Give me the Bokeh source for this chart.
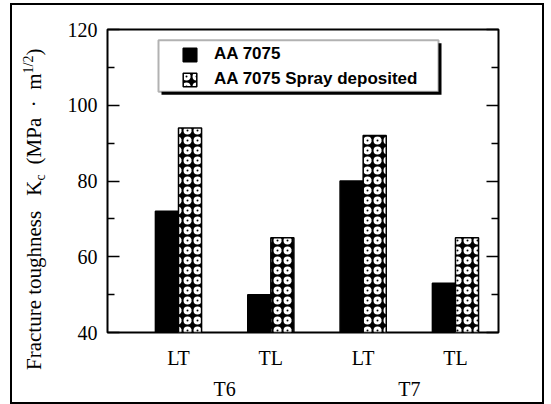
import numpy as np
from bokeh.plotting import figure
from bokeh.layouts import row
from bokeh.models import (ColumnDataSource, FixedTicker, LinearAxis, Range1d,
                          Legend, LegendItem, BoxAnnotation, Div)
from bokeh.embed import file_html
from bokeh.resources import INLINE

# ---------------- data ----------------
tempers = ["T6", "T6", "T7", "T7"]
orientations = ["LT", "TL", "LT", "TL"]
aa7075 = [72, 50, 80, 53]
aa7075_spray = [94, 65, 92, 65]
series_names = ["AA 7075", "AA 7075 Spray deposited"]
y_ticks = [40, 60, 80, 100, 120]
y_minor_ticks = [50, 70, 90, 110]
y_title_main = "Fracture toughness"
y_title_k = "K"
y_title_sub = "c"
y_title_mid = "(MPa\u00a0\u00a0\u00b7\u00a0\u00a0m"
y_title_sup = "1/2"
y_title_end = ")"

# ---------------- layout helpers ----------------
pos = np.arange(1, len(orientations) + 1, dtype=float)
bar_w = 0.25
X0, X1 = 0.231, 4.466
Y0, Y1 = y_ticks[0], y_ticks[-1]

PAGE_L, PAGE_T = 12, 5          # top-left corner of the graphic (inside its 2px outline)
TOTAL_W, TOTAL_H = 530, 397
TITLE_W = 50                    # width of the strip holding the rotated y title
FL, FR, FT, FB = 107, 498, 29, 336   # plot frame edges on the page


def dx(px):
    return X0 + (px - FL) * (X1 - X0) / (FR - FL)


def dy(py):
    return Y0 + (FB - py) * (Y1 - Y0) / (FB - FT)


group_names = list(dict.fromkeys(tempers))
group_pos = [float(np.mean([q for q, t in zip(pos, tempers) if t == g])) for g in group_names]

SERIF = "Liberation Serif"
SANS = "Liberation Sans"

main_x = PAGE_L + TITLE_W
main_w = TOTAL_W - TITLE_W
p = figure(width=main_w, height=TOTAL_H, output_backend="svg", toolbar_location=None,
           x_range=Range1d(X0, X1), y_range=Range1d(Y0, Y1),
           x_axis_location=None, y_axis_location=None,
           min_border_left=FL - main_x, min_border_right=main_x + main_w - FR,
           min_border_top=FT - PAGE_T, min_border_bottom=PAGE_T + TOTAL_H - FB)
p.margin = 0
p.grid.visible = False
p.outline_line_color = "black"
p.outline_line_width = 2
p.background_fill_color = "white"
p.border_fill_color = "white"

# ---------------- axes ----------------
yl = LinearAxis(ticker=FixedTicker(ticks=y_ticks, minor_ticks=y_minor_ticks))
yr = LinearAxis(ticker=FixedTicker(ticks=y_ticks, minor_ticks=y_minor_ticks))
for ax in (yl, yr):
    ax.axis_line_color = None
    ax.major_tick_in = 12
    ax.major_tick_out = 0
    ax.minor_tick_in = 7
    ax.minor_tick_out = 0
    ax.major_tick_line_width = 1.5
    ax.minor_tick_line_width = 1.5
    ax.major_label_text_font = SERIF
    ax.major_label_text_font_size = "20px"
    ax.major_label_text_color = "black"
    ax.major_label_standoff = 10
yr.major_label_text_color = None
p.add_layout(yl, "left")
p.add_layout(yr, "right")

xb = LinearAxis(ticker=FixedTicker(ticks=list(pos)),
                major_label_overrides={int(x): o for x, o in zip(pos, orientations)})
xg = LinearAxis(ticker=FixedTicker(ticks=group_pos),
                major_label_overrides={g_p: g for g_p, g in zip(group_pos, group_names)})
for ax in (xb, xg):
    ax.axis_line_color = None
    ax.major_tick_line_color = None
    ax.minor_tick_line_color = None
    ax.major_label_text_font = SERIF
    ax.major_label_text_font_size = "20px"
    ax.major_label_text_color = "black"
xb.major_label_standoff = 8
xb.major_label_text_line_height = 1.0
xg.major_label_standoff = 0
p.add_layout(xb, "below")
p.add_layout(xg, "below")

# ---------------- bars ----------------
src = ColumnDataSource(dict(x_black=pos - bar_w / 2, x_spray=pos + bar_w / 2,
                            aa=aa7075, spray=aa7075_spray))
r1 = p.vbar(x="x_black", top="aa", bottom=Y0, width=bar_w, source=src,
            fill_color="black", line_color="black", line_width=1.5)
r2 = p.vbar(x="x_spray", top="spray", bottom=Y0, width=bar_w, source=src,
            fill_color="black", line_color="black", line_width=1.5,
            hatch_pattern="ring", hatch_color="white", hatch_scale=10, hatch_weight=3.0)

# ---------------- legend box with shadow ----------------
shadow = BoxAnnotation(left=dx(161), right=dx(441), top=dy(43), bottom=dy(95),
                       fill_color="black", fill_alpha=1, line_color=None)
box = BoxAnnotation(left=dx(158), right=dx(438), top=dy(40), bottom=dy(92),
                    fill_color="white", fill_alpha=1, line_color="black", line_width=2)
p.add_layout(shadow)
p.add_layout(box)

legend = Legend(items=[LegendItem(label=series_names[0], renderers=[r1]),
                       LegendItem(label=series_names[1], renderers=[r2])],
                location=(74, 243), orientation="vertical", padding=0, margin=0,
                spacing=5, glyph_width=17, glyph_height=17, label_height=20,
                label_standoff=16, label_text_font=SANS, label_text_font_style="bold",
                label_text_font_size="17px", label_text_color="black",
                border_line_color=None, background_fill_alpha=0)
p.add_layout(legend, "center")

# ---------------- y axis title strip (real text, rotated, with sub/superscript) ----
title_center_x = 34 - PAGE_L          # centre of the rotated text line in the strip
title_start_y = 370 - PAGE_T          # where the text begins (its bottom end)
line_w = 22
html = (
    f'<div style="position:relative;width:{TITLE_W}px;height:{TOTAL_H}px;">'
    f'<div style="position:absolute;left:{title_center_x - line_w / 2}px;'
    f'top:{title_start_y}px;transform-origin:0 0;transform:rotate(-90deg);'
    f'height:{line_w}px;line-height:{line_w}px;white-space:nowrap;'
    f'font-family:\'{SERIF}\';font-size:21px;color:black;">'
    f'{y_title_main}<span style="margin-left:15px;">{y_title_k}</span>'
    f'<span style="font-size:14px;position:relative;top:4px;">{y_title_sub}</span>'
    f'<span style="margin-left:10px;">{y_title_mid}</span>'
    f'<span style="font-size:14px;position:relative;top:-8px;">{y_title_sup}</span>'
    f'{y_title_end}</div></div>'
)
title_div = Div(text=html, width=TITLE_W, height=TOTAL_H, margin=0)

layout = row(title_div, p, spacing=0)
layout.margin = (PAGE_T, 0, 0, PAGE_L)
layout.styles = {"outline": "2px solid black"}

open("out.html", "w").write(file_html(layout, INLINE))
